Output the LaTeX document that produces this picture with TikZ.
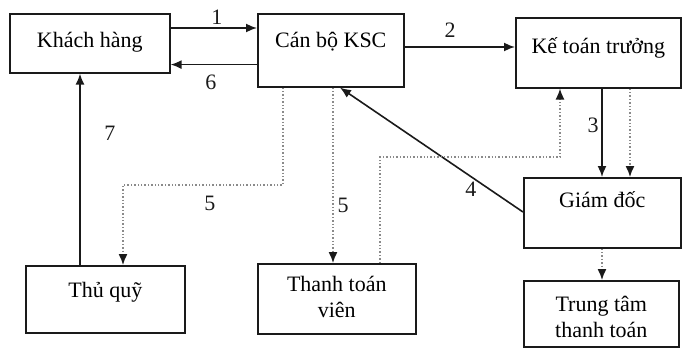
\documentclass[tikz,border=0pt]{standalone}
\usepackage{fontspec}
\setmainfont{Liberation Serif}
\usepackage{tikz}
\usetikzlibrary{arrows.meta,calc,positioning}
\definecolor{qink}{HTML}{1A1A1A}
\definecolor{qdotc}{HTML}{8A8A8A}
\tikzset{
  >={Latex[length=5.5pt,width=4.5pt]},
  qbox/.style={draw=qink, line width=0.8pt, inner sep=0pt, anchor=north west,
               font=\fontsize{11}{13}\selectfont, align=center},
  qflow/.style={->, qink, line width=0.8pt},
  qdot/.style={-{Latex[length=5.5pt,width=4.5pt,color=qink]}, qdotc,
               densely dotted, line width=0.7pt},
  qnum/.style={qink, font=\fontsize{11}{13}\selectfont, inner sep=1pt},
}

\begin{document}
\begin{tikzpicture}[x=0.5pt, y=-0.5pt]

  \useasboundingbox (0,0) rectangle (682,348);

  % cac khoi
  \node[qbox, minimum width=80pt, minimum height=29.5pt,
        text height=17pt, text depth=12.5pt] (kh) at (9,13) {Khách hàng};
  \node[qbox, minimum width=73pt, minimum height=36.5pt,
        text height=17pt, text depth=19.5pt] (cb) at (257,13) {Cán bộ KSC};
  \node[qbox, minimum width=82.5pt, minimum height=35pt,
        text height=18pt, text depth=17pt] (kt) at (515,17) {Kế toán trưởng};
  \node[qbox, minimum width=78.5pt, minimum height=35pt,
        text height=15pt, text depth=20pt] (gd) at (523,177) {Giám đốc};
  \node[qbox, minimum width=79.5pt, minimum height=33.5pt,
        text height=16pt, text depth=17.5pt] (tq) at (25,265) {Thủ quỹ};
  \node[qbox, minimum width=79pt, minimum height=35pt,
        text height=27pt, text depth=8pt] (ttv) at (257,263)
        {Thanh toán\\viên};
  \node[qbox, minimum width=77.5pt, minimum height=33pt,
        text height=28.5pt, text depth=4.5pt] (tt) at (523,280)
        {Trung tâm\\thanh toán};

  % diem gap khuc
  \coordinate (b5) at (123,185);
  \coordinate (bv) at (560,157);
  \coordinate (a6) at ([yshift=4.5pt]kh.south east);

  % luong chinh
  \draw[qflow] ([yshift=-7.5pt]kh.north east) coordinate (a1) -- (a1 -| cb.west);
  \draw[qflow] (a6 -| cb.west) -- (a6);
  \draw[qflow] ([yshift=-17pt]cb.north east) coordinate (a2) -- (a2 -| kt.west);
  \draw[qflow] ([xshift=43.5pt]kt.south west) coordinate (a3) -- (a3 |- gd.north);
  \draw[qflow] ([yshift=-17.5pt]gd.north west) -- ([xshift=41.5pt]cb.south west);
  \draw[qflow] ([xshift=27.5pt]tq.north west) coordinate (a7) -- (a7 |- kh.south);

  % luong cham
  \draw[qdot] ([xshift=57.5pt]kt.south west) coordinate (d1) -- (d1 |- gd.north);
  \draw[qdot] ([xshift=13pt]cb.south west) |- (b5) -- (b5 |- tq.north);
  \draw[qdot] ([xshift=38pt]cb.south west) coordinate (d2) -- (d2 |- ttv.north);
  \draw[qdot] ([xshift=61.5pt]ttv.north west) |- (bv) -- (bv |- kt.south);
  \draw[qdot] ([xshift=39.5pt]gd.south west) coordinate (d3) -- (d3 |- tt.north);

  % so thu tu
  \node[qnum] (n1) at (217,17) {1};
  \node[qnum] (n6) at (211,82) {6};
  \node[qnum] (n7) at (110,133) {7};
  \node[qnum] (n2) at (450,30) {2};
  \node[qnum] (n3) at (593,125) {3};
  \node[qnum] (n4) at (471,189) {4};
  \node[qnum] (n5a) at (210,203) {5};
  \node[qnum] (n5b) at (343,205) {5};

\end{tikzpicture}
\end{document}
